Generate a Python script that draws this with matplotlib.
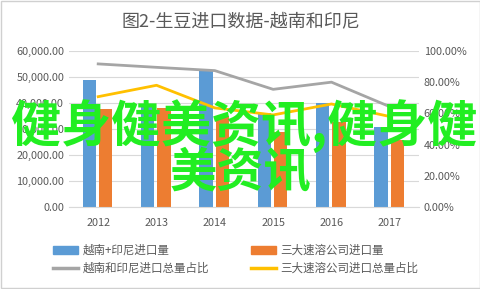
import matplotlib
matplotlib.use("Agg")

import numpy as np
import matplotlib.pyplot as plt
from matplotlib.patches import Patch, Rectangle
from matplotlib.lines import Line2D
from matplotlib.ticker import FuncFormatter

plt.rcParams['font.family'] = ['Noto Sans CJK SC', 'DejaVu Sans']

years = ["2012", "2013", "2014", "2015", "2016", "2017"]
vn_id_volume = [48800, 38800, 52400, 36000, 40000, 30800]
big3_volume = [37700, 38000, 35000, 29000, 32800, 25800]
vn_id_share = [91.7, 89.5, 87.4, 75.4, 80.0, 64.3]
big3_share = [70.7, 78.0, 63.5, 59.0, 66.0, 58.0]

blue = "#5B9BD5"
orange = "#ED7D31"
gray = "#A5A5A5"
yellow = "#FFC000"
txt = "#595959"

fig = plt.figure(figsize=(4.81, 2.89), dpi=100)
fig.patches.append(Rectangle((0.002, 0.003), 0.996, 0.994, transform=fig.transFigure,
                             fill=False, edgecolor="#d0d0d0", linewidth=1))

ax = fig.add_axes([0.1435, 0.2837, 0.7275, 0.54])
x = np.arange(len(years))
w = 0.23
ax.bar(x - 0.15, vn_id_volume, w, color=blue, zorder=2)
ax.bar(x + 0.13, big3_volume, w, color=orange, zorder=2)
ax.set_ylim(0, 60000)
ax.set_xlim(-0.5, len(years) - 0.5)
ax.set_yticks(np.arange(0, 60001, 10000))
ax.yaxis.set_major_formatter(FuncFormatter(lambda v, p: f"{v:,.2f}"))
ax.set_xticks(x)
ax.set_xticklabels(years)
ax.grid(axis="y", color="#d9d9d9", linewidth=0.8, zorder=0)
for s in ax.spines.values():
    s.set_visible(False)
ax.spines["bottom"].set_visible(True)
ax.spines["bottom"].set_color("#d9d9d9")
ax.tick_params(length=0, colors=txt, labelsize=7.8)
ax.tick_params(axis="x", pad=8)

ax2 = ax.twinx()
ax2.plot(x, vn_id_share, color=gray, linewidth=2, zorder=3)
ax2.plot(x, big3_share, color=yellow, linewidth=2, zorder=3)
ax2.set_ylim(0, 100)
ax2.set_yticks(np.arange(0, 101, 20))
ax2.yaxis.set_major_formatter(FuncFormatter(lambda v, p: f"{v:.2f}%"))
for s in ax2.spines.values():
    s.set_visible(False)
ax2.tick_params(length=0, colors=txt, labelsize=7.8)

fig.text(0.5, 0.925, "图2-生豆进口数据-越南和印尼", ha="center", va="center",
         fontsize=13, color=txt)

# matplotlib fills legend columns first, so order for row-wise reading
handles = [Patch(color=blue),
           Line2D([], [], color=gray, linewidth=2.5),
           Patch(color=orange),
           Line2D([], [], color=yellow, linewidth=2.5)]
labels = ["越南+印尼进口量", "越南和印尼进口总量占比",
          "三大速溶公司进口量", "三大速溶公司进口总量占比"]
fig.legend(handles, labels, ncol=2, loc="center", bbox_to_anchor=(0.49, 0.102),
           frameon=False, fontsize=8.3, labelcolor=txt, handlelength=2.2,
           handleheight=0.6, columnspacing=3.6, labelspacing=0.45, handletextpad=0.4)

fig.text(0.507, 0.564, "健身健美资讯,健身健", ha="center", va="center",
         fontsize=36, color="#22ee22", fontweight="bold")
fig.text(0.5, 0.40, "美资讯", ha="center", va="center",
         fontsize=34, color="#22ee22", fontweight="bold")

fig.savefig("out.png", dpi=100)
